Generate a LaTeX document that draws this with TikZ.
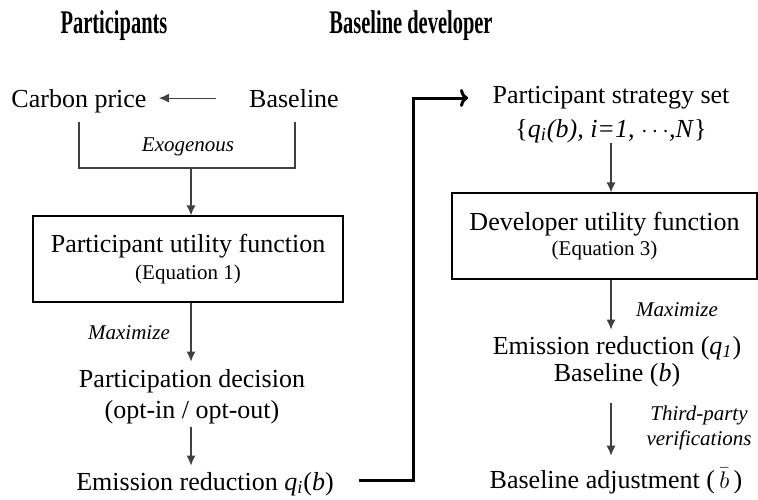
\documentclass[tikz,border=0pt]{standalone}
\usepackage{fontspec}
\setmainfont{Liberation Serif}
\newfontfamily\headfont[FakeStretch=0.62]{Liberation Serif}
\newcommand\eqnsize{\fontsize{10.5}{12}\selectfont}
\usetikzlibrary{arrows.meta}

\begin{document}
\begin{tikzpicture}[x=0.5pt,y=-0.5pt,
		txt/.style={anchor=base,inner sep=0pt,align=center,font=\fontsize{13}{15.5}\selectfont},
		head/.style={anchor=base,inner sep=0pt,font=\fontsize{16.5}{18}\headfont\bfseries},
		lab/.style={anchor=base,inner sep=0pt,align=center,font=\fontsize{10.5}{12.5}\selectfont\itshape},
		ubox/.style={draw,line width=0.6pt,align=center,minimum height=43pt,font=\fontsize{13}{15.5}\selectfont},
		thin/.style={draw=black!75,line width=0.6pt},
		arr/.style={thin,-{Latex[length=5pt,width=4.5pt]}},
		thick/.style={line width=1.5pt,-{To[length=4pt,width=9pt]}}]
		\useasboundingbox (0,0) rectangle (758,499);
		\node (hpart) at (114,33)[head]{Participants};
		\node (hdev) at (411,33)[head]{Baseline developer};
		\node (cp) at (79,107)[txt]{Carbon price};
		\node (bl) at (294,107)[txt]{Baseline};
		\coordinate (cpleg) at (79,122);
		\coordinate (blleg) at (295,122);
		\coordinate (exo) at (191,168);
		\node (exolab) at (188,151)[lab]{Exogenous};
		\node (pu) at (188,259)[ubox,minimum width=155pt]{Participant utility function\\[-2pt]{\eqnsize (Equation 1)}};
		\node (max1) at (129,339)[lab]{Maximize};
		\node (pd) at (192,418)[txt]{Participation decision\\(opt-in / opt-out)};
		\node (er) at (205,490)[txt]{Emission reduction \textit{q}\textsubscript{\textit{i}}(\textit{b})};
		\node (ps) at (611,137)[txt]{Participant strategy set\\[1.5pt]\{\textit{q}\textsubscript{\textit{i}}\textit{(b), i=1, }$\cdots$\textit{,N}\}};
		\node (du) at (604.5,236)[ubox,minimum width=152.5pt]{Developer utility function\\[-3pt]{\eqnsize (Equation 3)}};
		\node (max2) at (677,316)[lab]{Maximize};
		\node (eb) at (617,381)[txt]{Emission reduction (\textit{q}\textsubscript{\textit{1}})\\[-2pt]Baseline (\textit{b})};
		\node (tp) at (699,445)[lab]{Third-party\\verifications};
		\node (ba) at (616,488)[txt]{Baseline adjustment (\,$\bar{b}$\,)};
		\coordinate (turn) at (413,98);
		\coordinate (tip) at (468,98);
		\draw[arr] ([xshift=-16.5pt]bl.west) -- ([xshift=6pt]cp.east |- bl.west);
		\draw[thin] (cpleg) |- (exo) -| (blleg);
		\draw[arr] (exo) -- (exo |- pu.north);
		\draw[arr,shorten >=3.5pt] (pu.south -| exo) -- (exo |- pd.north);
		\draw[arr,shorten <=1.5pt,shorten >=3pt] (pd.south -| exo) -- (exo |- er.north);
		\draw[thick] ([xshift=12.5pt,yshift=1.5pt]er.east) -| (turn) -- (tip);
		\draw[arr] (ps.south) -- (ps.south |- du.north);
		\draw[arr,shorten >=3pt] (ps.south |- du.south) -- (ps.south |- eb.north);
		\draw[arr,shorten <=8pt,shorten >=6pt] (ps.south |- eb.south) -- (ps.south |- ba.north);
\end{tikzpicture}
\end{document}
